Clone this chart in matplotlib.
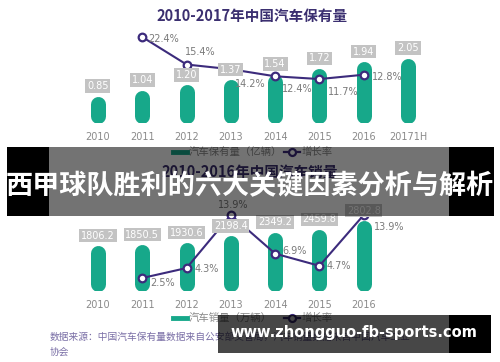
import matplotlib.pyplot as plt
from matplotlib.patches import Rectangle
from matplotlib.lines import Line2D

plt.rcParams['font.family'] = ['Noto Sans CJK SC', 'DejaVu Sans']

# data - top chart (car ownership, 100 million vehicles)
own_years = ['2010', '2011', '2012', '2013', '2014', '2015', '2016', '20171H']
own_values = [0.85, 1.04, 1.20, 1.37, 1.54, 1.72, 1.94, 2.05]
own_labels = ['0.85', '1.04', '1.20', '1.37', '1.54', '1.72', '1.94', '2.05']
own_growth = [22.4, 15.4, 14.2, 12.4, 11.7, 12.8]  # 2011..2016

# data - bottom chart (car sales, 10k vehicles)
sales_years = ['2010', '2011', '2012', '2013', '2014', '2015', '2016']
sales_values = [1806.2, 1850.5, 1930.6, 2198.4, 2349.2, 2459.8, 2802.8]
sales_growth = [2.5, 4.3, 13.9, 6.9, 4.7, 13.9]  # 2011..2016

W, H = 500, 362
GREEN = '#17a88a'
PURPLE = '#3c2b7c'
GREY = '#8a8a8a'
TITLE = '#3b2f70'

fig = plt.figure(figsize=(5, 3.62), dpi=100)


def frac(x, y):
    return x / W, 1 - y / H


def make_axes(top, bottom, n):
    left = 98 - 22.2
    right = left + 44.3 * (n)
    return fig.add_axes([left / W, 1 - bottom / H, (right - left) / W, (bottom - top) / H])


def draw_chart(ax, years, values, labels, growth, ymax, gmin, gmax, gofs, top_px, bot_px):
    n = len(years)
    ax.set_xlim(-0.5, n - 0.5)
    ax.set_ylim(0, ymax)
    ppu = (bot_px - top_px) / ymax
    cap = 7.5 / ppu
    xs = list(range(n))
    for x, v in zip(xs, values):
        ax.plot([x, x], [cap, v - cap], color=GREEN, lw=10.8, solid_capstyle='round')
    ax.set_xticks(xs)
    ax.set_xticklabels(years, color=GREY, fontsize=7, family='DejaVu Sans')
    ax.tick_params(length=0, pad=6.5)
    ax.set_yticks([])
    for s in ax.spines.values():
        s.set_visible(False)
    ax.patch.set_alpha(0)

    ax2 = ax.twinx()
    ax2.set_ylim(gmin, gmax)
    ax2.set_yticks([])
    for s in ax2.spines.values():
        s.set_visible(False)
    gx = xs[1:1 + len(growth)]
    ax2.plot(gx, growth, color=PURPLE, lw=1.5, marker='o', ms=5.5,
             mfc='white', mec=PURPLE, mew=1.6, zorder=3)
    for x, g, (dx, dy, ha) in zip(gx, growth, gofs):
        ax2.annotate(f'{g}%', xy=(x, g), xytext=(dx, dy), textcoords='offset pixels',
                     ha=ha, va='center', fontsize=7, color='#7a7a7a',
                     family='DejaVu Sans', zorder=4)
    for x, v, lab in zip(xs, values, labels):
        ax2.annotate(lab, xy=(x, v), xycoords=ax.transData, xytext=(0, 10),
                     textcoords='offset pixels', ha='center', va='center',
                     fontsize=7, color='white', family='DejaVu Sans', zorder=5,
                     bbox=dict(boxstyle='square,pad=0.18', fc='#c3c3c3', ec='none'))


# top chart
fig.text(*frac(252, 16), '2010-2017年中国汽车保有量', ha='center', va='center',
         fontsize=10.5, fontweight='bold', color=TITLE)
ax_top = make_axes(30, 123, len(own_years))
draw_chart(ax_top, own_years, own_values, own_labels, own_growth,
           93 / 31.7, 0.52, 24.18,
           [(6, -2, 'left'), (14, 13, 'center'), (19, -15, 'center'),
            (22, -13, 'center'), (24, -13, 'center'), (8, -2, 'left')],
           30, 123)

# bottom chart
fig.text(*frac(250, 172), '2010-2016年中国汽车销量', ha='center', va='center',
         fontsize=10.5, fontweight='bold', color=TITLE, zorder=5)
sales_labels = [f'{v:.1f}' for v in sales_values]
ax_bot = make_axes(200, 291, len(sales_years))
draw_chart(ax_bot, sales_years, sales_values, sales_labels, sales_growth,
           91 / 0.0251, 0.15, 16.6,
           [(8, -5, 'left'), (8, -1, 'left'), (2, 10, 'center'),
            (7, 3, 'left'), (7, 0, 'left'), (10, -12, 'left')],
           200, 291)


def legend_row(y, label1, x_text2):
    fig.add_artist(Line2D([173 / W, 187 / W], [1 - y / H] * 2, color=GREEN, lw=3.5,
                          transform=fig.transFigure, zorder=5))
    fig.text(*frac(189, y), label1, ha='left', va='center', fontsize=7.5,
             color=GREY, zorder=5)
    fig.add_artist(Line2D([284 / W, 300 / W], [1 - y / H] * 2, color=PURPLE, lw=1.6,
                          transform=fig.transFigure, zorder=5))
    fig.add_artist(Line2D([292 / W], [1 - y / H], marker='o', ms=5, mfc='white',
                          mec=PURPLE, mew=1.6, transform=fig.transFigure, zorder=5))
    fig.text(*frac(x_text2, y), '增长率', ha='left', va='center', fontsize=7.5,
             color=GREY, zorder=5)


legend_row(152, '汽车保有量（亿辆）', 302)
legend_row(318, '汽车销量（万辆）', 302)

fig.text(*frac(50, 337), '数据来源：中国汽车保有量数据来自公安部交管局，汽车销量数据来自中国汽车工业',
         ha='left', va='center', fontsize=7, color='#7a6fa6', style='italic', zorder=5)
fig.text(*frac(50, 352), '协会', ha='left', va='center', fontsize=7,
         color='#7a6fa6', style='italic', zorder=5)

# banner overlay
fig.add_artist(Rectangle(frac(7, 216), 42 / W, 69 / H, fc='black', ec='none',
                         transform=fig.transFigure, zorder=10))
fig.add_artist(Rectangle(frac(49, 216), 400 / W, 69 / H, fc='black', ec='none',
                         alpha=0.55, transform=fig.transFigure, zorder=10))
fig.add_artist(Rectangle(frac(449, 216), 45 / W, 69 / H, fc='black', ec='none',
                         transform=fig.transFigure, zorder=10))
fig.text(*frac(250, 186), '西甲球队胜利的六大关键因素分析与解析', ha='center', va='center',
         fontsize=19.5, fontweight='bold', color='white', zorder=11)

# site watermark
fig.add_artist(Rectangle(frac(218, 353), 231 / W, 38 / H, fc='black', ec='none',
                         alpha=0.72, transform=fig.transFigure, zorder=10))
fig.add_artist(Rectangle(frac(449, 353), 42 / W, 38 / H, fc='black', ec='none',
                         transform=fig.transFigure, zorder=10))
fig.text(*frac(354, 333), 'www.zhongguo-fb-sports.com', ha='center', va='center',
         fontsize=10.5, fontweight='bold', color='white', family='DejaVu Sans', zorder=11)

fig.savefig('out.png', dpi=100)
